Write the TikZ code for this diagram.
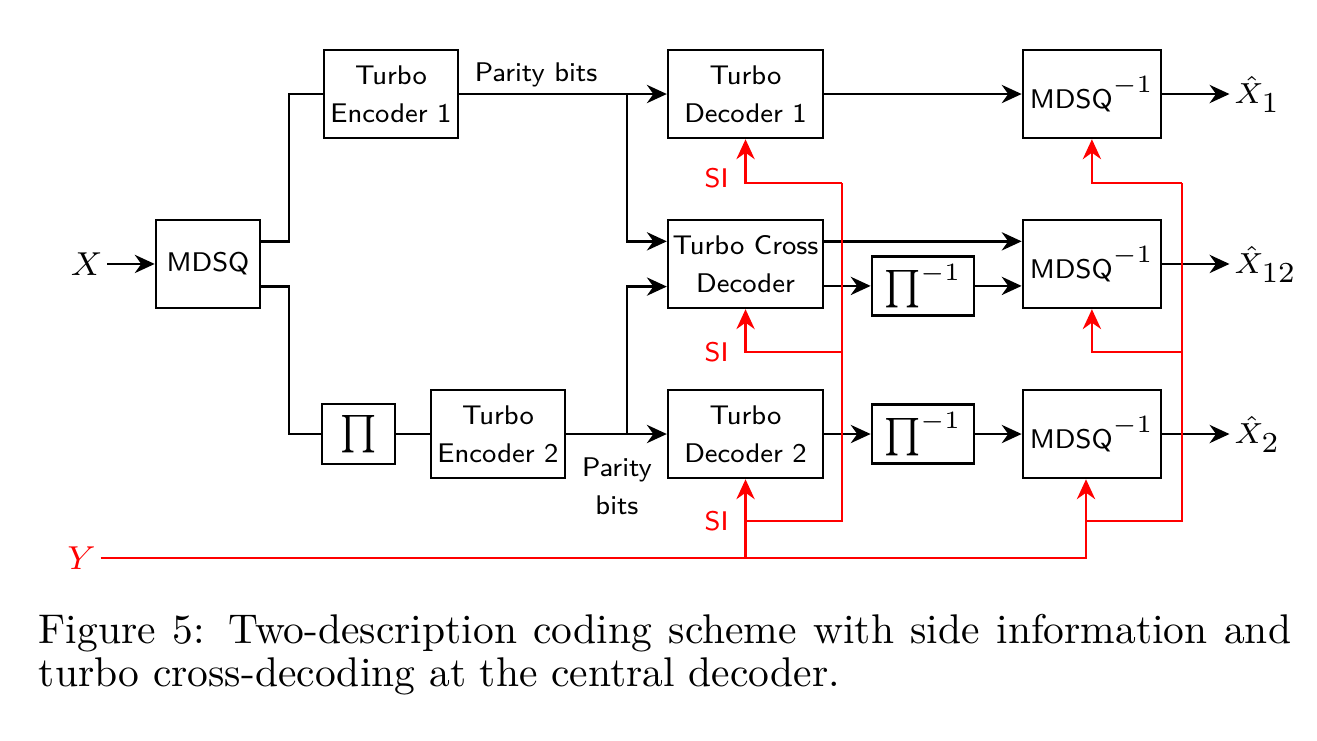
\documentclass[tikz,border=0pt]{standalone}
\usepackage{fontspec}
\usepackage{amsmath}
\usepackage{tikz}
\usetikzlibrary{arrows.meta,positioning,calc}

\newcommand{\mathsz}[1]{{\fontsize{8.6}{10}\selectfont$#1$}}
\newcommand{\lblsz}[1]{{\fontsize{7}{8}\selectfont$#1$}}
\newcommand{\insz}[1]{{\fontsize{7.8}{9}\selectfont$#1$}}

\begin{document}
\begin{tikzpicture}[every node/.style={font=\sffamily\fontsize{6.5}{9.2}\selectfont}]
    \tikzstyle{blk} = [rectangle, draw=black, semithick, align=center, inner sep=1pt, minimum height=0.745cm]
    \tikzstyle{arr} = [-{Stealth[length=4.8pt,width=4.4pt]}, semithick]
    \tikzstyle{wire} = [semithick]
    \tikzstyle{sig} = [red, semithick]
    \tikzstyle{sigarr} = [red, semithick, -{Stealth[length=4.8pt,width=4.4pt]}]
    \tikzstyle{lbl} = [inner sep=1pt]
    \useasboundingbox (0,0) rectangle (11.152,-6.274);

    % encoders
    \node (mdsq) [blk, minimum width=0.881cm] at (1.761,-2.235) {MDSQ};
    \node (x) [lbl, left=0.4cm of mdsq] {\insz{X}};
    \node (enc1) [blk, minimum width=1.135cm] at (3.311,-0.796) {Turbo\\Encoder 1};
    \node (perm) [blk, minimum width=0.618cm, minimum height=0.508cm] at (3.036,-3.675) {\mathsz{\prod}};
    \node (enc2) [blk, minimum width=1.135cm] at (4.217,-3.675) {Turbo\\Encoder 2};

    % decoders
    \node (dec1) [blk, minimum width=1.312cm] at (6.313,-0.796) {Turbo\\Decoder 1};
    \node (cross) [blk, minimum width=1.312cm] at (6.313,-2.235) {Turbo Cross\\Decoder};
    \node (dec2) [blk, minimum width=1.312cm] at (6.313,-3.675) {Turbo\\Decoder 2};
    \node (inv1) [blk, minimum width=0.864cm, minimum height=0.5cm] at (7.815,-2.421) {\mathsz{\prod^{-1}}};
    \node (inv2) [blk, minimum width=0.864cm, minimum height=0.5cm] at (7.815,-3.675) {\mathsz{\prod^{-1}}};
    \node (mdsqi1) [blk, minimum width=1.169cm] at (9.246,-0.796) {MDSQ\mathsz{^{-1}}};
    \node (mdsqi12) [blk, minimum width=1.169cm] at (9.246,-2.235) {MDSQ\mathsz{^{-1}}};
    \node (mdsqi2) [blk, minimum width=1.169cm] at (9.246,-3.675) {MDSQ\mathsz{^{-1}}};
    \node (xh1) [lbl, right=0.57cm of mdsqi1] {\lblsz{\hat{X}_{\textstyle 1}}};
    \node (xh12) [lbl, right=0.57cm of mdsqi12] {\lblsz{\hat{X}_{\textstyle 12}}};
    \node (xh2) [lbl, right=0.57cm of mdsqi2] {\lblsz{\hat{X}_{\textstyle 2}}};

    % encoder wiring
    \draw [arr] (x) -- (mdsq);
    \draw [wire] ($(mdsq.north east)!.25!(mdsq.south east)$) -- ++(0.237,0) |- (enc1.west);
    \draw [wire] ($(mdsq.north east)!.75!(mdsq.south east)$) -- ++(0.237,0) |- (perm.west);
    \draw [wire] (perm) -- (enc2);
    \draw [arr] (enc1) -- node[pos=0.37, above, inner sep=1.5pt] (par1) {Parity bits} (dec1);
    \draw [arr] (enc2) -- (dec2);
    \node (par2) [lbl, align=center] at (5.224,-4.115) {Parity\\bits};
    \coordinate (ja) at ($(dec1.west)+(-0.339,0)$);
    \coordinate (jb) at ($(dec2.west)+(-0.339,0)$);
    \draw [arr] (ja) |- ($(cross.north west)!.25!(cross.south west)$);
    \draw [arr] (jb) |- ($(cross.north west)!.75!(cross.south west)$);

    % decoder wiring
    \draw [arr] (dec1) -- (mdsqi1);
    \draw [arr] ($(cross.north east)!.25!(cross.south east)$) -- ($(mdsqi12.north west)!.25!(mdsqi12.south west)$);
    \draw [arr] (inv1.west -| cross.east) -- (inv1.west);
    \draw [arr] (inv1.east) -- (inv1.east -| mdsqi12.west);
    \draw [arr] (dec2) -- (inv2);
    \draw [arr] (inv2) -- (mdsqi2);
    \draw [arr] (mdsqi1) -- (xh1);
    \draw [arr] (mdsqi12) -- (xh12);
    \draw [arr] (mdsqi2) -- (xh2);

    % side information
    \node (y) [lbl, red] at (0.69,-4.725) {\insz{Y}};
    \coordinate (ytap) at ($(mdsqi2.south)+(-0.05,0)$);
    \coordinate (ba1) at (7.130,-1.550);
    \coordinate (ba2) at (7.130,-2.981);
    \coordinate (ba3) at (7.130,-4.412);
    \coordinate (bb1) at (10.009,-1.550);
    \coordinate (bb2) at (10.009,-2.981);
    \coordinate (bb3) at (10.009,-4.412);
    \draw [sigarr] (y) -| (ytap);
    \draw [sigarr] (dec2.south |- y) -- (dec2);
    \draw [sig] (dec2.south |- ba3) -- (ba3) -- (ba1);
    \draw [sigarr] (ba1) -| (dec1);
    \draw [sigarr] (ba2) -| (cross);
    \draw [sig] (ytap |- bb3) -- (bb3) -- (bb1);
    \draw [sigarr] (bb1) -| (mdsqi1);
    \draw [sigarr] (bb2) -| (mdsqi12);
    \node (si1) [red, left=0.02cm] at ($(dec1.south |- ba1)+(0,0.04)$) {SI};
    \node (si2) [red, left=0.02cm] at (cross.south |- ba2) {SI};
    \node (si3) [red, left=0.02cm] at (dec2.south |- ba3) {SI};

    % caption
    \node (cap) [anchor=base west, text width=301.7pt, align=justify, inner sep=0pt,
        font=\rmfamily\fontsize{10}{10.4}\selectfont] at (0.322,-5.449)
        {Figure~5: Two-description coding scheme with side information and turbo cross-decoding at the central decoder.};
\end{tikzpicture}
\end{document}
